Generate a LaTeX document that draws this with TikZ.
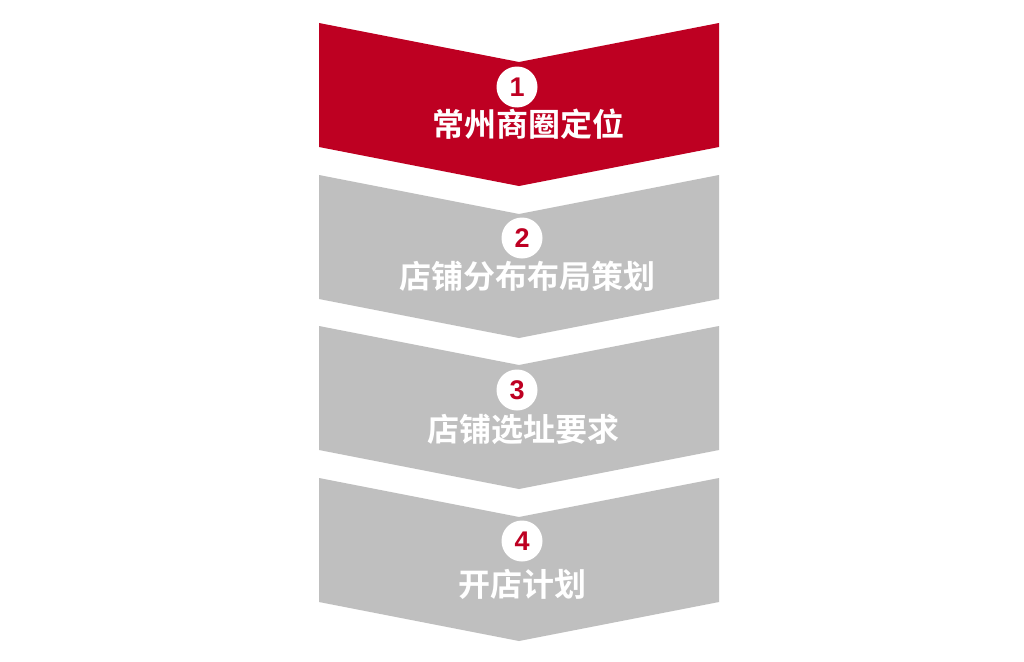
\documentclass[tikz,border=0pt]{standalone}
\usepackage{fontspec}
\newfontfamily\cjk{Noto Sans CJK SC}[BoldFont={Noto Sans CJK SC Bold}]
\newfontfamily\numfont{Liberation Sans}
\definecolor{chred}{RGB}{190,0,34}
\definecolor{chgray}{RGB}{191,191,191}
\begin{document}
\begin{tikzpicture}[x=1pt,y=-1pt,
  numcirc/.style={circle,fill=white,minimum size=41pt,inner sep=0pt,font=\numfont\bfseries\fontsize{27}{27}\selectfont,text=chred},
  lbl/.style={text=white,font=\cjk\bfseries\fontsize{32}{32}\selectfont,inner sep=0pt,anchor=center}]
\useasboundingbox[fill=white] (0,0) rectangle (1024,661);
\foreach \t/\c in {23/chred,175/chgray,326/chgray,478/chgray}{
  \fill[\c] (319,\t) -- (519,\t+39) -- (719,\t) -- (719,\t+124) -- (519,\t+163) -- (319,\t+124) -- cycle;
}
\node[numcirc] (n1) at (517,87) {1};
\node[lbl] (t1) at (528,124) {常州商圈定位};
\node[numcirc] (n2) at (522,238) {2};
\node[lbl] (t2) at (527,276) {店铺分布布局策划};
\node[numcirc] (n3) at (517,390) {3};
\node[lbl] (t3) at (523,429) {店铺选址要求};
\node[numcirc] (n4) at (522,541) {4};
\node[lbl] (t4) at (522,584) {开店计划};
\end{tikzpicture}
\end{document}
